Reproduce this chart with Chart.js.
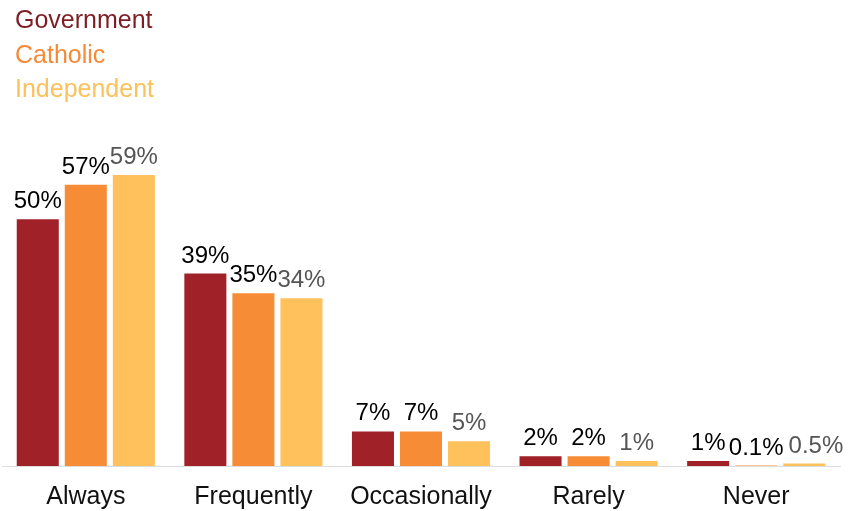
<!DOCTYPE html>
<html>
<head>
<meta charset="utf-8">
<script src="https://cdn.jsdelivr.net/npm/chart.js@4/dist/chart.umd.min.js"></script>
<style>
  html, body { margin: 0; padding: 0; background: #fff; }
  #wrap { position: relative; width: 854px; height: 511px; }
</style>
</head>
<body>
<div id="wrap"><canvas id="chart" width="854" height="511"></canvas></div>
<script>
// Frequency categories and the share of respondents per school sector (%)
const categories = ['Always', 'Frequently', 'Occasionally', 'Rarely', 'Never'];
const seriesNames = ['Government', 'Catholic', 'Independent'];
const government = [50, 39, 7, 2, 1];
const catholic = [57, 35, 7, 2, 0.1];
const independent = [59, 34, 5, 1, 0.5];

const FONT = '"Liberation Sans", Arial, Helvetica, sans-serif';

// Stacked text legend in the top-left corner, each name in its series colour
const textLegend = {
  id: 'textLegend',
  afterDraw(chart) {
    const ctx = chart.ctx;
    ctx.save();
    ctx.font = '25px ' + FONT;
    ctx.textAlign = 'left';
    ctx.textBaseline = 'alphabetic';
    chart.data.datasets.forEach((ds, i) => {
      ctx.fillStyle = ds.legendColor;
      ctx.fillText(ds.label, 15, 28 + i * 34.5);
    });
    ctx.restore();
  }
};

// Percentage labels above each bar; within a category a label that would
// run into its left neighbour is nudged to the right
const valueLabels = {
  id: 'valueLabels',
  afterDatasetsDraw(chart) {
    const ctx = chart.ctx;
    ctx.save();
    ctx.font = '24px ' + FONT;
    ctx.textAlign = 'left';
    ctx.textBaseline = 'alphabetic';
    const metas = chart.data.datasets.map((ds, i) => chart.getDatasetMeta(i));
    chart.data.labels.forEach((c, j) => {
      let prevRight = -Infinity;
      chart.data.datasets.forEach((ds, i) => {
        const bar = metas[i].data[j];
        const text = ds.data[j] + '%';
        const w = ctx.measureText(text).width;
        let left = bar.x - w / 2;
        if (left < prevRight) left = prevRight + 5;
        ctx.fillStyle = ds.valueColor;
        ctx.fillText(text, left, bar.y - 11);
        prevRight = left + w;
      });
    });
    ctx.restore();
  }
};

new Chart(document.getElementById('chart'), {
  type: 'bar',
  data: {
    labels: categories,
    datasets: [
      { label: seriesNames[0], data: government, backgroundColor: '#A02128', legendColor: '#7D1E24', valueColor: '#000000' },
      { label: seriesNames[1], data: catholic, backgroundColor: '#F68D36', legendColor: '#F58A38', valueColor: '#000000' },
      { label: seriesNames[2], data: independent, backgroundColor: '#FFC15B', legendColor: '#FDC15B', valueColor: '#555555' }
    ]
  },
  options: {
    responsive: false,
    animation: false,
    events: [],
    layout: { padding: { top: 170, left: 2, right: 14, bottom: 2 } },
    datasets: { bar: { categoryPercentage: 0.86, barPercentage: 0.875 } },
    plugins: { legend: { display: false }, tooltip: { enabled: false } },
    scales: {
      y: { display: false, min: 0, max: 60 },
      x: {
        grid: { display: false, drawTicks: false },
        border: { display: true, color: '#DDDDDD', width: 1 },
        ticks: { color: '#111111', font: { family: FONT, size: 25 }, padding: 16 },
        afterFit(scale) { scale.height = 43; }
      }
    }
  },
  plugins: [textLegend, valueLabels]
});
</script>
</body>
</html>
